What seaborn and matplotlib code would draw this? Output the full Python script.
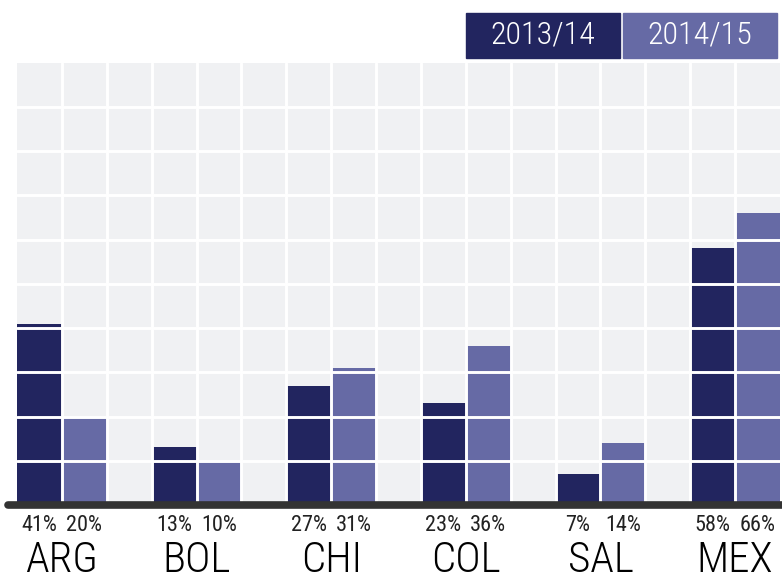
import pandas as pd
import seaborn as sns
import matplotlib
matplotlib.use("Agg")
import matplotlib.pyplot as plt
from matplotlib.patches import Rectangle

# ================================
# Data
# ================================
countries = ["ARG", "BOL", "CHI", "COL", "SAL", "MEX"]
seasons = ["2013/14", "2014/15"]
share_1314 = [41, 13, 27, 23, 7, 58]
share_1415 = [20, 10, 31, 36, 14, 66]

DARK = "#22255f"
LIGHT = "#666aa5"
PANEL = "#f0f1f3"
COND = ["Roboto Condensed", "DejaVu Sans"]

rows = []
for i, c in enumerate(countries):
    rows.append({"country": c, "season": seasons[0], "value": share_1314[i], "pos": 3 * i})
    rows.append({"country": c, "season": seasons[1], "value": share_1415[i], "pos": 3 * i + 1})
df = pd.DataFrame(rows)

# ================================
# Plot
# ================================
sns.set_style("white")
fig = plt.figure(figsize=(7.82, 5.82), dpi=100)
ax = fig.add_axes([17 / 782, 77 / 582, 763 / 782, 442.5 / 582])
ax.set_facecolor(PANEL)

sns.barplot(
    data=df, x="pos", y="value", hue="season", hue_order=seasons,
    palette=[DARK, LIGHT], native_scale=True, dodge=False, width=1,
    saturation=1, linewidth=0, legend=False, ax=ax
)

ax.set_xlim(-0.5, 16.5)
ax.set_ylim(0, 100)
ax.set_xticks([x + 0.5 for x in range(16)])
ax.set_yticks(range(10, 100, 10))
ax.set_axisbelow(False)
ax.grid(True, color="white", linewidth=2.1)
ax.tick_params(length=0, labelbottom=False, labelleft=False)
ax.set_xlabel("")
ax.set_ylabel("")
for s in ax.spines.values():
    s.set_visible(False)

# thick baseline
ax.axhline(0, xmin=-0.012, xmax=1.01, color="#333333", lw=5.5, clip_on=False, zorder=5)

# labels under the bars
for _, r in df.iterrows():
    ax.annotate(f"{r['value']}%", xy=(r["pos"], 0), xytext=(0, -18.5),
                textcoords="offset points", ha="center", va="baseline",
                fontsize=16, color="#222222", family=COND)
for i, c in enumerate(countries):
    ax.annotate(c, xy=(3 * i + 0.5, 0), xytext=(0, -54.5),
                textcoords="offset points", ha="center", va="bottom",
                fontsize=31, color="black", family=COND, fontweight="light")

# legend boxes top right
for j, (lab, col) in enumerate(zip(seasons, [DARK, LIGHT])):
    x0 = (466 + j * 157) / 782
    fig.patches.append(Rectangle((x0, (582 - 58) / 582), 154 / 782, 45 / 582,
                                 transform=fig.transFigure, color=col))
    fig.text(x0 + 77 / 782, (582 - 36) / 582, lab, color="white", fontsize=23,
             ha="center", va="center", family=COND, fontweight="light")

plt.savefig("out.png", dpi=100)
plt.close()
